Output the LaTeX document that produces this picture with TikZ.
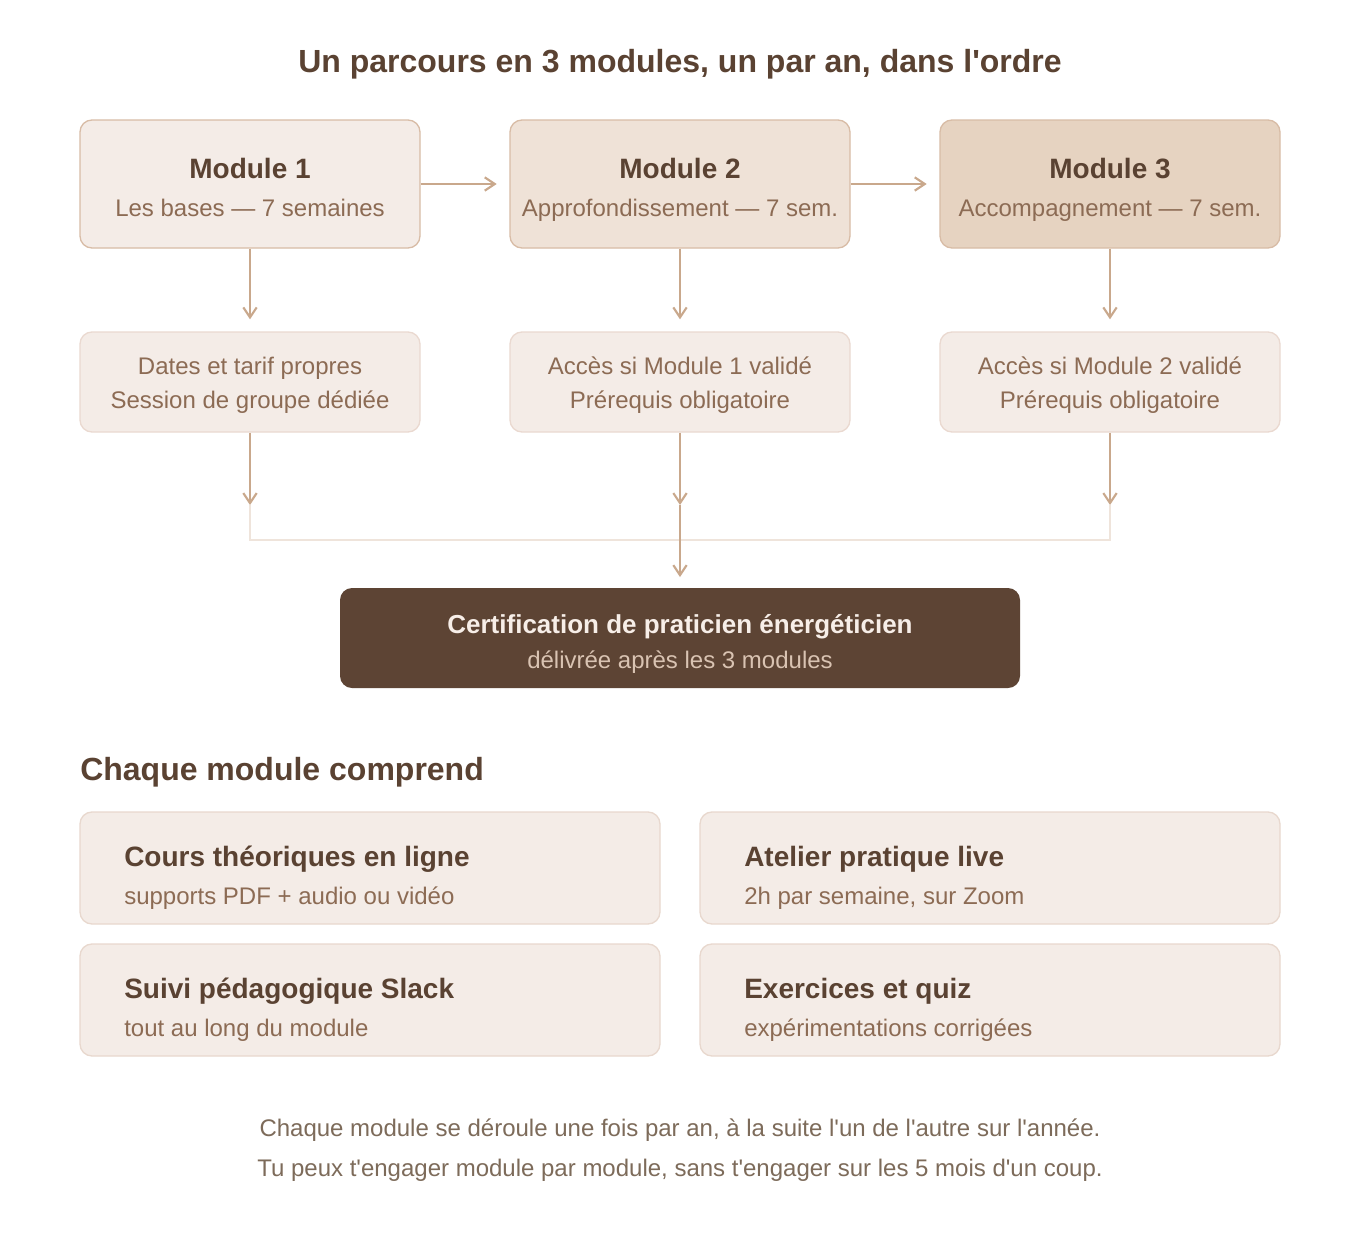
\documentclass[tikz,border=0pt]{standalone}
\usepackage{fontspec}
\setmainfont{Liberation Sans}[Ligatures=TeXOff]
\usetikzlibrary{arrows.meta}
\definecolor{dark}{HTML}{5A4232}
\definecolor{subc}{HTML}{8C6B54}
\definecolor{footc}{HTML}{7D6B5A}
\definecolor{arrc}{HTML}{C9A88C}
\definecolor{lightline}{HTML}{EFE4DB}
\definecolor{mfillA}{HTML}{F4ECE7}
\definecolor{mfillB}{HTML}{EFE2D7}
\definecolor{mfillC}{HTML}{E6D3C1}
\definecolor{mborder}{HTML}{D8BCA6}
\definecolor{pborder}{HTML}{EAD9D0}
\definecolor{certfill}{HTML}{5D4434}
\definecolor{certtitle}{HTML}{F7EEE8}
\definecolor{certsub}{HTML}{D9C3B2}
\definecolor{cardborder}{HTML}{E8D8CE}
\begin{document}
\begin{tikzpicture}[x=0.75pt,y=-0.75pt,
  modbox/.style={draw=mborder, line width=1pt, rounded corners=9pt, minimum width=255pt, minimum height=96pt, inner sep=0pt},
  prebox/.style={draw=pborder, fill=mfillA, line width=1pt, rounded corners=9pt, minimum width=255pt, minimum height=75pt, inner sep=0pt},
  certbox/.style={fill=certfill, rounded corners=9pt, minimum width=510pt, minimum height=75pt, inner sep=0pt},
  cardbox/.style={draw=cardborder, fill=mfillA, line width=1pt, rounded corners=9pt, minimum width=435pt, minimum height=84pt, inner sep=0pt},
  titletxt/.style={anchor=base, inner sep=0pt, text=dark, font=\fontsize{24}{28}\selectfont\bfseries},
  modtitle/.style={anchor=base, inner sep=0pt, text=dark, font=\fontsize{21}{25}\selectfont\bfseries},
  subtxt/.style={anchor=base, inner sep=0pt, text=subc, font=\fontsize{18}{22}\selectfont},
  cardtitle/.style={anchor=base west, inner sep=0pt, text=dark, font=\fontsize{21}{25}\selectfont\bfseries},
  cardsub/.style={anchor=base west, inner sep=0pt, text=subc, font=\fontsize{18}{22}\selectfont},
  foottxt/.style={anchor=base, inner sep=0pt, text=footc, font=\fontsize{18}{22}\selectfont},
  arr/.style={draw=arrc, line width=1.6pt, -{Straight Barb[length=7.5pt,width=10pt,line width=1.6pt]}},
]
\useasboundingbox[fill=white] (0,0) rectangle (1360,1240);

% title
\node[titletxt] (title) at (680,72.5) {Un parcours en 3 modules, un par an, dans l'ordre};

% modules
\node[modbox, fill=mfillA] (m1) at (250,184) {};
\node[modbox, fill=mfillB] (m2) at (680,184) {};
\node[modbox, fill=mfillC] (m3) at (1110,184) {};
\node[modtitle] (m1t) at (250,178) {Module 1};
\node[subtxt] (m1s) at (250,216) {Les bases — 7 semaines};
\node[modtitle] (m2t) at (680,178) {Module 2};
\node[subtxt] (m2s) at (680,216) {Approfondissement — 7 sem.};
\node[modtitle] (m3t) at (1110,178) {Module 3};
\node[subtxt] (m3s) at (1110,216) {Accompagnement — 7 sem.};

% prerequisites
\node[prebox] (p1) at (250,382) {};
\node[prebox] (p2) at (680,382) {};
\node[prebox] (p3) at (1110,382) {};
\node[subtxt] (p1a) at (250,374) {Dates et tarif propres};
\node[subtxt] (p1b) at (250,408) {Session de groupe dédiée};
\node[subtxt] (p2a) at (680,374) {Accès si Module 1 validé};
\node[subtxt] (p2b) at (680,408) {Prérequis obligatoire};
\node[subtxt] (p3a) at (1110,374) {Accès si Module 2 validé};
\node[subtxt] (p3b) at (1110,408) {Prérequis obligatoire};

% certification
\node[certbox] (cert) at (680,638) {};
\node[anchor=base, inner sep=0pt, text=certtitle, font=\fontsize{19.5}{23}\selectfont\bfseries] (certt) at (680,633) {Certification de praticien énergéticien};
\node[anchor=base, inner sep=0pt, text=certsub, font=\fontsize{18}{22}\selectfont] (certs) at (680,668) {délivrée après les 3 modules};

% junction coordinates
\coordinate (j1) at (250,505);
\coordinate (j2) at (680,505);
\coordinate (j3) at (1110,505);
\coordinate (h1) at (250,540);
\coordinate (h3) at (1110,540);

% light merge line
\draw[lightline, line width=1.5pt] (j1) -- (h1) -- (h3) -- (j3);

% arrows
\draw[arr, shorten >=9.5pt] (m1.east) -- (m2.west);
\draw[arr, shorten >=9.5pt] (m2.east) -- (m3.west);
\draw[arr, shorten >=9pt] (m1.south) -- (p1.north);
\draw[arr, shorten >=9pt] (m2.south) -- (p2.north);
\draw[arr, shorten >=9pt] (m3.south) -- (p3.north);
\draw[arr] (p1.south) -- (j1);
\draw[arr] (p2.south) -- (j2);
\draw[arr] (p3.south) -- (j3);
\draw[arr, shorten >=8pt] (j2) -- (cert.north);

% section heading
\node[anchor=base west, inner sep=0pt, text=dark, font=\fontsize{24}{28}\selectfont\bfseries] (sec) at (80,780) {Chaque module comprend};

% cards
\node[cardbox] (c1) at (370,868) {};
\node[cardbox] (c2) at (990,868) {};
\node[cardbox] (c3) at (370,1000) {};
\node[cardbox] (c4) at (990,1000) {};
\node[cardtitle] (c1t) at (124,866) {Cours théoriques en ligne};
\node[cardsub] (c1s) at (124,904) {supports PDF + audio ou vidéo};
\node[cardtitle] (c2t) at (744,866) {Atelier pratique live};
\node[cardsub] (c2s) at (744,904) {2h par semaine, sur Zoom};
\node[cardtitle] (c3t) at (124,998) {Suivi pédagogique Slack};
\node[cardsub] (c3s) at (124,1036) {tout au long du module};
\node[cardtitle] (c4t) at (744,998) {Exercices et quiz};
\node[cardsub] (c4s) at (744,1036) {expérimentations corrigées};

% footer
\node[foottxt] (f1) at (680,1136) {Chaque module se déroule une fois par an, à la suite l'un de l'autre sur l'année.};
\node[foottxt] (f2) at (680,1176) {Tu peux t'engager module par module, sans t'engager sur les 5 mois d'un coup.};
\end{tikzpicture}
\end{document}
